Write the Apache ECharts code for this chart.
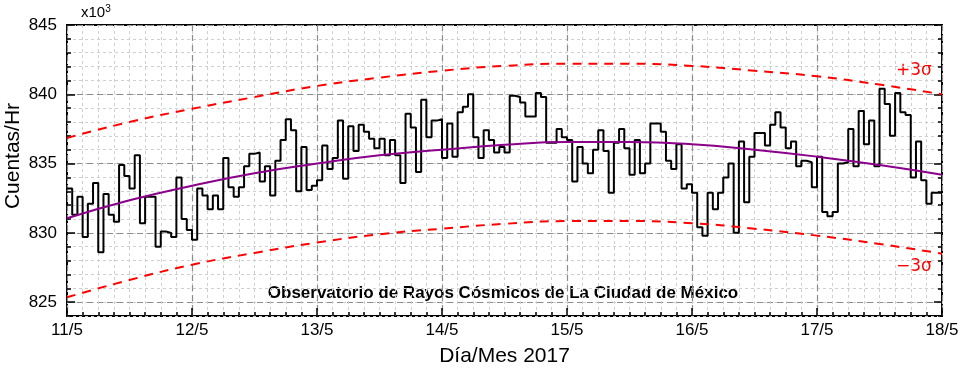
<!DOCTYPE html>
<html><head><meta charset="utf-8">
<script src="https://cdn.jsdelivr.net/npm/echarts@6/dist/echarts.min.js"></script>
<style>html,body{margin:0;padding:0;background:#fff}#c{width:963px;height:376px}</style>
</head><body><div id="c"></div>
<script>
// ---- data ----
const dayLabels = ['11/5','12/5','13/5','14/5','15/5','16/5','17/5','18/5'];
const yTickLabels = [825, 830, 835, 840, 845];
// hourly counts (x10^3), 11/5 00h .. 17/5 23h
const counts = [
 833.2, 831.3, 832.6, 829.7, 832.1, 833.6, 828.6, 832.8, 831.3, 830.8,
 834.9, 834.1, 833.2, 835.6, 830.7, 832.6, 832.6, 829.0, 830.1, 830.0,
 829.7, 834.0, 831.0, 830.2, 829.5, 833.2, 832.7, 831.7, 832.7, 831.7,
 835.4, 833.3, 832.6, 833.3, 834.8, 835.7, 835.8, 833.7, 834.8, 832.7,
 835.2, 836.7, 838.2, 837.4, 833.0, 836.2, 833.1, 833.4, 833.8, 836.3,
 834.6, 835.4, 838.1, 833.9, 837.7, 835.9, 837.8, 837.3, 836.8, 836.1,
 836.8, 835.6, 836.7, 835.6, 833.6, 838.6, 837.6, 834.4, 839.6, 836.9,
 838.1, 838.2, 835.4, 837.9, 835.5, 838.7, 839.1, 840.0, 836.9, 835.4,
 837.4, 836.7, 835.8, 836.2, 835.8, 839.9, 839.8, 839.4, 838.4, 838.4,
 840.1, 839.8, 836.5, 836.5, 837.5, 836.9, 836.7, 833.7, 836.2, 835.0,
 834.3, 836.0, 837.4, 835.9, 832.9, 836.5, 837.5, 836.1, 834.2, 836.7,
 834.3, 835.0, 837.9, 837.9, 837.3, 835.2, 834.6, 836.4, 833.2, 833.5,
 832.9, 830.4, 829.8, 832.9, 831.7, 832.9, 834.0, 835.0, 830.0, 836.6,
 832.2, 835.5, 837.2, 837.2, 836.3, 837.8, 838.7, 837.6, 836.1, 836.6,
 834.8, 835.2, 835.1, 833.3, 835.5, 831.5, 831.2, 831.5, 835.0, 835.1,
 837.5, 834.8, 838.8, 836.4, 838.1, 834.8, 840.4, 839.3, 837.0, 840.1,
 838.7, 838.5, 834.0, 836.6, 833.8, 832.1, 832.9, 832.9
];
// fitted curve and +/-3 sigma bands, read every 12 h
const fitHours   = [0, 12, 24, 36, 48, 60, 72, 84, 96, 108, 120, 132, 144, 156, 168];
const fitValues  = [831.05, 832.35, 833.4, 834.3, 835.0, 835.6, 836.0, 836.35, 836.55, 836.55, 836.4, 836.0, 835.5, 834.9, 834.2];
const upperValues= [836.85, 838.0, 838.95, 839.8, 840.6, 841.2, 841.7, 842.05, 842.2, 842.2, 842.05, 841.7, 841.3, 840.7, 840.0];
const lowerValues= [825.35, 826.6, 827.7, 828.55, 829.3, 829.9, 830.3, 830.65, 830.85, 830.85, 830.7, 830.3, 829.8, 829.2, 828.5];

// ---- chart ----
const chart = echarts.init(document.getElementById('c'), null, {renderer: 'canvas'});
const stepData = counts.map((v, i) => [i, v]);
stepData.push([counts.length, counts[counts.length - 1]]);
const zip = (xs, ys) => xs.map((x, i) => [x, ys[i]]);

const MAJOR = '#8c8c8c', MINOR = '#cfcfcf';
const FONT = 'Liberation Sans, Arial, sans-serif';
const yMin = 824, yMax = 845, xMax = 168;

chart.setOption({
  animation: false,
  grid: {left: 67, right: 21, top: 25, bottom: 60, outerBoundsMode: 'none', containLabel: false,
         show: true, borderColor: '#000', borderWidth: 2, backgroundColor: 'transparent'},
  xAxis: [
    {type: 'value', min: 0, max: xMax, interval: 3, position: 'bottom',
     axisLine: {show: false}, axisLabel: {show: false},
     axisTick: {show: true, inside: true, length: 4, lineStyle: {color: '#000', width: 1.5}},
     splitLine: {show: true, lineStyle: {color: MINOR, type: [3, 3], width: 1}}},
    {type: 'value', min: 0, max: xMax, interval: 24, position: 'bottom',
     axisLine: {show: false},
     axisTick: {show: true, inside: true, length: 8, lineStyle: {color: '#000', width: 1.5}},
     splitLine: {show: true, lineStyle: {color: MAJOR, type: [6, 4], width: 1.2}},
     axisLabel: {show: true, margin: 6, color: '#000', fontSize: 17, fontFamily: FONT,
       formatter: v => dayLabels[Math.round(v / 24)] || ''},
     name: 'Día/Mes 2017', nameLocation: 'middle', nameGap: 30, nameMoveOverlap: false,
     nameTextStyle: {fontSize: 21, color: '#000', fontFamily: FONT}}
  ],
  yAxis: [
    {type: 'value', min: yMin, max: yMax, interval: 1, position: 'left',
     axisLine: {show: false}, axisLabel: {show: false},
     axisTick: {show: true, inside: true, length: 4, lineStyle: {color: '#000', width: 1.5}},
     splitLine: {show: true, lineStyle: {color: MINOR, type: [3, 3], width: 1}}},
    {type: 'value', min: yMin, max: yMax, position: 'left',
     axisLine: {show: false},
     axisTick: {show: true, inside: true, length: 8, customValues: yTickLabels, lineStyle: {color: '#000', width: 1.5}},
     splitLine: {show: true, lineStyle: {color: MAJOR, type: [6, 4], width: 1.2}},
     axisLabel: {show: true, customValues: yTickLabels, margin: 10, color: '#000', fontSize: 17, fontFamily: FONT,
       formatter: v => String(v)},
     name: 'Cuentas/Hr', nameLocation: 'middle', nameGap: 43, nameRotate: 90, nameMoveOverlap: false,
     nameTextStyle: {fontSize: 21, color: '#000', fontFamily: FONT, padding: [0, 0, 0, 29]}},
    {type: 'value', min: yMin, max: yMax, interval: 1, position: 'right',
     axisLine: {show: false}, axisLabel: {show: false}, splitLine: {show: false},
     axisTick: {show: true, inside: true, length: 4, lineStyle: {color: '#000', width: 1.5}}},
    {type: 'value', min: yMin, max: yMax, position: 'right',
     axisLine: {show: false}, axisLabel: {show: false}, splitLine: {show: false},
     axisTick: {show: true, inside: true, length: 8, customValues: yTickLabels, lineStyle: {color: '#000', width: 1.5}}}
  ],
  series: [
    {type: 'line', name: 'cuentas', xAxisIndex: 1, yAxisIndex: 1, data: stepData, step: 'end',
     showSymbol: false, lineStyle: {color: '#000', width: 2}, z: 3},
    {type: 'line', name: 'ajuste', xAxisIndex: 1, yAxisIndex: 1, data: zip(fitHours, fitValues), smooth: true,
     showSymbol: false, lineStyle: {color: '#8b008b', width: 2}, z: 4},
    {type: 'line', name: '+3σ', xAxisIndex: 1, yAxisIndex: 1, data: zip(fitHours, upperValues), smooth: true,
     showSymbol: false, lineStyle: {color: '#ff0000', width: 2, type: [9, 7]}, z: 4},
    {type: 'line', name: '-3σ', xAxisIndex: 1, yAxisIndex: 1, data: zip(fitHours, lowerValues), smooth: true,
     showSymbol: false, lineStyle: {color: '#ff0000', width: 2, type: [9, 7]}, z: 4}
  ],
  graphic: [
    {type: 'text', left: 81, top: 4, style: {text: 'x10{s|3}', fontSize: 15, fontFamily: FONT, fill: '#000',
      rich: {s: {fontSize: 10, verticalAlign: 'top', padding: [0, 0, 8, 0], fontFamily: FONT}}}},
    {type: 'text', left: 896, top: 62, style: {text: '+3σ', fontSize: 17, fontFamily: 'DejaVu Sans, sans-serif', fill: '#ff0000'}},
    {type: 'text', left: 896, top: 258, style: {text: '−3σ', fontSize: 17, fontFamily: 'DejaVu Sans, sans-serif', fill: '#ff0000'}},
    {type: 'text', x: 503, y: 293, style: {text: 'Observatorio de Rayos Cósmicos de La Ciudad de México', fontSize: 17, fontWeight: 'bold',
      fontFamily: FONT, fill: '#000', align: 'center', verticalAlign: 'middle'}}
  ]
});
</script></body></html>
